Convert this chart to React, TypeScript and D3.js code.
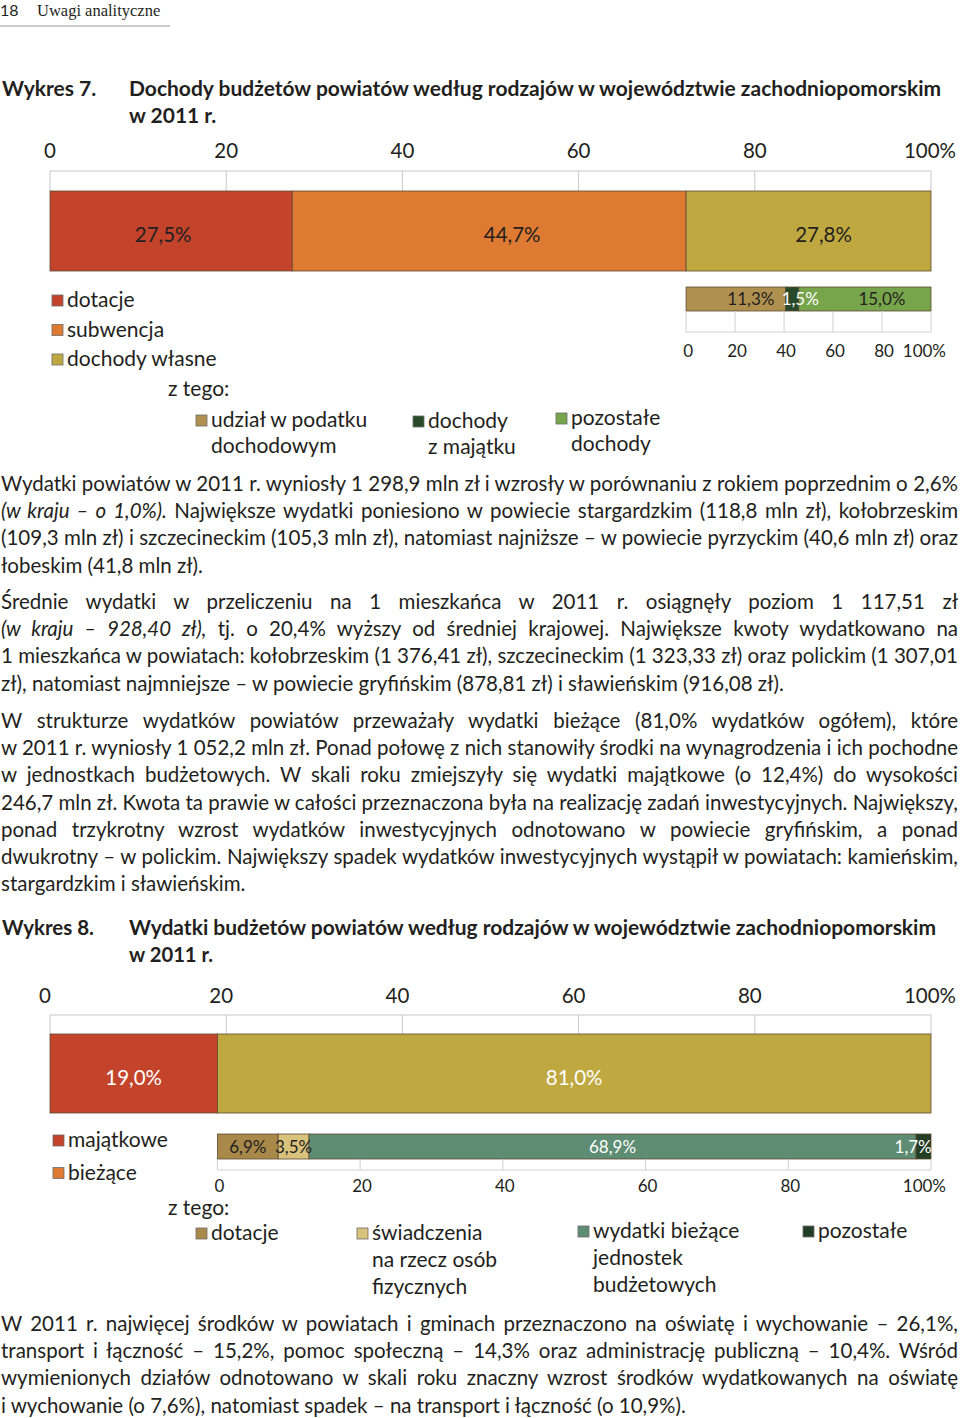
import * as d3 from 'd3'
import { useEffect, useLayoutEffect, useRef, useState } from 'react'

// ---- chart data ----
const percentTicks = [0, 20, 40, 60, 80, 100]

const incomeCategories = ['dotacje', 'subwencja', 'dochody własne']
const incomeShares = [27.5, 44.7, 27.8]
const ownIncomeCategories = [['udział w podatku', 'dochodowym'], ['dochody', 'z majątku'], ['pozostałe', 'dochody']]
const ownIncomeShares = [11.3, 1.5, 15.0]

const expenseCategories = ['majątkowe', 'bieżące']
const expenseShares = [19.0, 81.0]
const currentExpenseCategories = [
  ['dotacje'],
  ['świadczenia', 'na rzecz osób', 'fizycznych'],
  ['wydatki bieżące', 'jednostek', 'budżetowych'],
  ['pozostałe'],
]
const currentExpenseShares = [6.9, 3.5, 68.9, 1.7]

// ---- styles ----
const SANS = 'Lato, "Open Sans", "Noto Sans", sans-serif'
const SERIF = '"Liberation Serif", "DejaVu Serif", serif'
const INK = '#231f20'
const BODY = 20.5
const incomeColors = ['#c4432b', '#de7a31', '#bfa83f']
const ownIncomeColors = ['#b0904f', '#284a2a', '#77a54b']
const ownIncomeText = [INK, '#ffffff', INK]
const expenseColors = ['#c4432b', '#bfa83f']
const expenseLegendColors = ['#c4432b', '#de7a31']
const currentExpenseColors = ['#a8894a', '#d8c27c', '#5e8d74', '#233e25']
const currentExpenseText = [INK, INK, '#ffffff', '#ffffff']

// ---- body text ----
type Part = string | { it: string }
const para1: Part[][] = [
  ['Wydatki powiatów w 2011 r. wyniosły 1 298,9 mln zł i wzrosły w porównaniu z rokiem poprzednim o 2,6%'],
  [{ it: '(w kraju – o 1,0%).' }, ' Największe wydatki poniesiono w powiecie stargardzkim (118,8 mln zł), kołobrzeskim'],
  ['(109,3 mln zł) i szczecineckim (105,3 mln zł), natomiast najniższe – w powiecie pyrzyckim (40,6 mln zł) oraz'],
  ['łobeskim (41,8 mln zł).'],
]
const para2: Part[][] = [
  ['Średnie wydatki w przeliczeniu na 1 mieszkańca w 2011 r. osiągnęły poziom 1 117,51 zł'],
  [{ it: '(w kraju – 928,40 zł),' }, ' tj. o 20,4% wyższy od średniej krajowej. Największe kwoty wydatkowano na'],
  ['1 mieszkańca w powiatach: kołobrzeskim (1 376,41 zł), szczecineckim (1 323,33 zł) oraz polickim (1 307,01'],
  ['zł), natomiast najmniejsze – w powiecie gryfińskim (878,81 zł) i sławieńskim (916,08 zł).'],
]
const para3: Part[][] = [
  ['W strukturze wydatków powiatów przeważały wydatki bieżące (81,0% wydatków ogółem), które'],
  ['w 2011 r. wyniosły 1 052,2 mln zł. Ponad połowę z nich stanowiły środki na wynagrodzenia i ich pochodne'],
  ['w jednostkach budżetowych. W skali roku zmiejszyły się wydatki majątkowe (o 12,4%) do wysokości'],
  ['246,7 mln zł. Kwota ta prawie w całości przeznaczona była na realizację zadań inwestycyjnych. Największy,'],
  ['ponad trzykrotny wzrost wydatków inwestycyjnych odnotowano w powiecie gryfińskim, a ponad'],
  ['dwukrotny – w polickim. Największy spadek wydatków inwestycyjnych wystąpił w powiatach: kamieńskim,'],
  ['stargardzkim i sławieńskim.'],
]
const para4: Part[][] = [
  ['W 2011 r. najwięcej środków w powiatach i gminach przeznaczono na oświatę i wychowanie – 26,1%,'],
  ['transport i łączność – 15,2%, pomoc społeczną – 14,3% oraz administrację publiczną – 10,4%. Wśród'],
  ['wymienionych działów odnotowano w skali roku znaczny wzrost środków wydatkowanych na oświatę'],
  ['i wychowanie (o 7,6%), natomiast spadek – na transport i łączność (o 10,9%).'],
]

const fmt = (v: number) => d3.format('.1f')(v).replace('.', ',') + '%'
const tickLabel = (d: number) => (d === 100 ? '100%' : String(d))

function segments(values: number[], scale: d3.ScaleLinear<number, number>) {
  const ends = Array.from(d3.cumsum(values))
  return values.map((v, i) => ({ v, i, x0: scale(ends[i] - v), x1: scale(ends[i]) }))
}

// text that is squeezed if too wide, and optionally justified via word spacing
function FitText({
  x, y, width, justify = false, size = BODY, weight = 400, parts,
}: { x: number; y: number; width: number; justify?: boolean; size?: number; weight?: number; parts: Part[] }) {
  const ref = useRef<SVGTextElement>(null)
  const [ready, setReady] = useState(0)
  useEffect(() => {
    ;(document as any).fonts?.ready.then(() => setReady(1))
  }, [])
  useLayoutEffect(() => {
    const el = ref.current
    if (!el) return
    el.removeAttribute('textLength')
    el.removeAttribute('lengthAdjust')
    el.style.wordSpacing = '0px'
    const natural = el.getComputedTextLength()
    const spaces = ((el.textContent || '').match(/ /g) || []).length
    if (natural > width) {
      el.setAttribute('textLength', String(width))
      el.setAttribute('lengthAdjust', 'spacingAndGlyphs')
    } else if (justify && spaces > 0) {
      el.style.wordSpacing = `${(width - natural) / spaces}px`
    }
  }, [ready, width, justify])
  return (
    <text ref={ref} x={x} y={y} fontSize={size} fontWeight={weight} fill={INK} fontFamily={SANS}>
      {parts.map((p, i) =>
        typeof p === 'string' ? <tspan key={i}>{p}</tspan> : <tspan key={i} fontStyle="italic">{p.it}</tspan>
      )}
    </text>
  )
}

function Paragraph({ lines, top, lastWidth }: { lines: Part[][]; top: number; lastWidth: number }) {
  return (
    <g>
      {lines.map((parts, i) => {
        const last = i === lines.length - 1
        return (
          <FitText key={i} x={1} y={top + i * 27.2} width={last ? lastWidth : 957} justify={!last} parts={parts} />
        )
      })}
    </g>
  )
}

function TopAxis({ scale, y, barTop, labelY, dx = 0 }: { scale: d3.ScaleLinear<number, number>; y: number; barTop: number; labelY: number; dx?: number }) {
  const [r0, r1] = scale.range()
  return (
    <g>
      <line x1={r0} x2={r1} y1={y} y2={y} stroke="#c8c8c8" />
      {percentTicks.map((t) => (
        <g key={t}>
          <line x1={scale(t)} x2={scale(t)} y1={y} y2={barTop} stroke="#c8c8c8" />
          <text
            x={t === 100 ? scale(t) + 25 : scale(t) + dx}
            y={labelY}
            textAnchor={t === 100 ? 'end' : 'middle'}
            fontSize={20.5}
            fill={INK}
            fontFamily={SANS}
          >
            {tickLabel(t)}
          </text>
        </g>
      ))}
    </g>
  )
}

function BottomAxis({ scale, barBottom, y, labelY }: { scale: d3.ScaleLinear<number, number>; barBottom: number; y: number; labelY: number }) {
  const [r0, r1] = scale.range()
  return (
    <g>
      <line x1={r0} x2={r1} y1={y} y2={y} stroke="#d0d0d0" />
      {percentTicks.map((t) => (
        <g key={t}>
          <line x1={scale(t)} x2={scale(t)} y1={barBottom} y2={y} stroke="#d0d0d0" />
          <text
            x={t === 100 ? scale(t) + 15 : scale(t) + 2}
            y={labelY}
            textAnchor={t === 100 ? 'end' : 'middle'}
            fontSize={17}
            fill={INK}
            fontFamily={SANS}
          >
            {tickLabel(t)}
          </text>
        </g>
      ))}
    </g>
  )
}

function StackedBar({
  values, scale, y, h, colors, textColors, fontSize, labelY, labelDx = [],
}: {
  values: number[]; scale: d3.ScaleLinear<number, number>; y: number; h: number
  colors: string[]; textColors: string[]; fontSize: number; labelY: number; labelDx?: number[]
}) {
  const end = scale.range()[1]
  const segs = segments(values, scale)
  return (
    <g>
      {segs.map((s) => (
        <rect key={s.i} x={s.x0} y={y} width={s.x1 - s.x0} height={h} fill={colors[s.i]} stroke="#5d4a33" strokeWidth={0.8} />
      ))}
      {segs.map((s) => (
        <text
          key={s.i}
          x={Math.min((s.x0 + s.x1) / 2 + (labelDx[s.i] || 0), end - fontSize * 1.05)}
          y={labelY}
          textAnchor="middle"
          fontSize={fontSize}
          fill={textColors[s.i]}
          fontFamily={SANS}
        >
          {fmt(s.v)}
        </text>
      ))}
    </g>
  )
}

function LegendItem({ x, y, color, lines, size = 21, step = 27 }: { x: number; y: number; color: string; lines: string[]; size?: number; step?: number }) {
  return (
    <g>
      <rect x={x} y={y - 12} width={11} height={11} fill={color} stroke="#6b6b6b" strokeWidth={0.8} />
      {lines.map((l, i) => (
        <text key={i} x={x + 15} y={y + i * step} fontSize={size} fill={INK} fontFamily={SANS}>
          {l}
        </text>
      ))}
    </g>
  )
}

export default function App() {
  const x = d3.scaleLinear().domain([0, 100]).range([50, 931])

  // chart 7: sub-bar spans the "dochody własne" segment
  const ownStart = d3.sum(incomeShares.slice(0, 2))
  const own = d3.scaleLinear().domain([0, d3.sum(ownIncomeShares)]).range([x(ownStart), x(100)])
  const ownAxis = d3.scaleLinear().domain([0, 100]).range(own.range())

  // chart 8: sub-bar spans the "bieżące" segment
  const cur = d3.scaleLinear().domain([0, d3.sum(currentExpenseShares)]).range([x(expenseShares[0]), x(100)])
  const curAxis = d3.scaleLinear().domain([0, 100]).range(cur.range())

  const ownLegendX = [196, 413, 556]
  const ownLegendY = [427, 428, 425]
  const curLegendX = [196, 357, 578, 803]

  return (
    <svg width={960} height={1418} style={{ position: 'absolute', left: 0, top: 0, background: '#fff' }}>
      <rect width={960} height={1418} fill="#fff" />
      {/* page header */}
      <text x={0} y={16} fontSize={16} fontFamily={SANS} fill={INK}>18</text>
      <text x={37} y={16} fontSize={16.5} fontFamily={SERIF} fill={INK}>Uwagi analityczne</text>
      <line x1={0} x2={170} y1={26} y2={26} stroke="#9a9a9a" strokeWidth={1} />

      {/* Wykres 7 */}
      <FitText x={2} y={96} width={95} size={21} weight={700} parts={['Wykres 7.']} />
      <FitText x={129} y={96} width={814} size={21} weight={700} parts={['Dochody budżetów powiatów według rodzajów w województwie zachodniopomorskim']} />
      <FitText x={129} y={123} width={90} size={21} weight={700} parts={['w 2011 r.']} />

      <TopAxis scale={x} y={171} barTop={191} labelY={158} />
      <StackedBar values={incomeShares} scale={x} y={191} h={80} colors={incomeColors} textColors={[INK, INK, INK]} fontSize={20.5} labelY={242} labelDx={[-8, 23, 15]} />

      {incomeCategories.map((c, i) => (
        <LegendItem key={c} x={52} y={307 + i * 29.5} color={incomeColors[i]} lines={[c]} />
      ))}
      <text x={168} y={396} fontSize={21} fill={INK} fontFamily={SANS}>z tego:</text>
      {ownIncomeCategories.map((c, i) => (
        <LegendItem key={i} x={ownLegendX[i]} y={ownLegendY[i]} color={ownIncomeColors[i]} lines={c} step={26} />
      ))}

      <StackedBar values={ownIncomeShares} scale={own} y={287} h={24} colors={ownIncomeColors} textColors={ownIncomeText} fontSize={17} labelY={305} labelDx={[15, 8, 17]} />
      <BottomAxis scale={ownAxis} barBottom={311} y={332} labelY={357} />

      {/* text */}
      <Paragraph lines={para1} top={491} lastWidth={207} />
      <Paragraph lines={para2} top={609} lastWidth={796} />
      <Paragraph lines={para3} top={728} lastWidth={250} />

      {/* Wykres 8 */}
      <FitText x={2} y={935} width={92} size={21} weight={700} parts={['Wykres 8.']} />
      <FitText x={129} y={935} width={809} size={21} weight={700} parts={['Wydatki budżetów powiatów według rodzajów w województwie zachodniopomorskim']} />
      <FitText x={129} y={962} width={84} size={21} weight={700} parts={['w 2011 r.']} />

      <TopAxis scale={x} y={1015} barTop={1034} labelY={1003} dx={-5} />
      <StackedBar values={expenseShares} scale={x} y={1034} h={79} colors={expenseColors} textColors={['#ffffff', '#ffffff']} fontSize={20.5} labelY={1085} />

      {expenseCategories.map((c, i) => (
        <LegendItem key={c} x={53} y={1147 + i * 32.5} color={expenseLegendColors[i]} lines={[c]} />
      ))}

      <StackedBar values={currentExpenseShares} scale={cur} y={1134} h={25} colors={currentExpenseColors} textColors={currentExpenseText} fontSize={17} labelY={1153} />
      <BottomAxis scale={curAxis} barBottom={1159} y={1170} labelY={1192} />

      <text x={168} y={1215} fontSize={21} fill={INK} fontFamily={SANS}>z tego:</text>
      {currentExpenseCategories.map((c, i) => (
        <LegendItem key={i} x={curLegendX[i]} y={i < 2 ? 1240 : 1238} color={currentExpenseColors[i]} lines={c} />
      ))}

      <Paragraph lines={para4} top={1331} lastWidth={701} />
    </svg>
  )
}
